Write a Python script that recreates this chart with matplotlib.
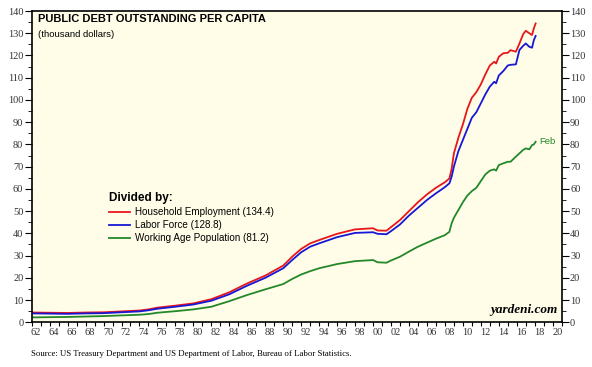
import matplotlib.pyplot as plt

# Public debt per capita (thousand dollars)
years = [1962, 1964, 1966, 1968, 1970, 1972, 1974,
         1975, 1976, 1978, 1980, 1982, 1984, 1986, 1988,
         1990, 1991, 1992, 1993, 1994, 1996, 1998,
         2000, 2000.5, 2001.5, 2002, 2003, 2004, 2005, 2006, 2007, 2008,
         2008.5, 2008.75, 2009, 2009.5, 2010, 2010.5, 2011, 2011.5, 2012, 2012.5,
         2013, 2013.5, 2013.7, 2014, 2014.5, 2015, 2015.3, 2015.9, 2016.3, 2016.7,
         2017, 2017.4, 2017.7, 2017.9, 2018.1]

household = [4.4, 4.3, 4.2, 4.4, 4.5, 4.9, 5.3,
             5.8, 6.6, 7.5, 8.5, 10.4, 13.5, 17.5, 21,
             25.5, 29.5, 33, 35.5, 37, 39.8, 41.8,
             42.3, 41.3, 41.2, 42.8, 46, 50, 54, 57.5, 60.5, 63,
             64.7, 69, 76, 83, 89, 96, 101, 103.5, 107, 111.5,
             115.5, 117.2, 116.4, 119.4, 121, 121.2, 122.4, 121.7, 125.4, 129.5,
             131.1, 130, 129.2, 132.2, 134.4]

labor = [4.0, 3.9, 3.8, 4.0, 4.1, 4.5, 4.9,
         5.4, 6.1, 7.0, 8.0, 9.7, 12.6, 16.5, 20,
         24.3, 28, 31.5, 34, 35.5, 38.3, 40.2,
         40.5, 39.8, 39.6, 41, 44, 48, 51.5, 55, 58, 60.8,
         62.5, 65.5, 70, 77, 82, 87, 92, 94.5, 98.5, 102.5,
         106, 108.2, 107.5, 111, 113, 115.5, 115.8, 116, 122.5, 124.3,
         125.4, 123.9, 123.5, 126.9, 128.8]

working_age = [2.2, 2.3, 2.4, 2.6, 2.8, 3.1, 3.4,
               3.7, 4.3, 5.0, 5.8, 7.0, 9.5, 12.3, 14.8,
               17.2, 19.5, 21.5, 23, 24.3, 26.2, 27.5,
               28, 27, 26.8, 27.8, 29.5, 31.8, 34, 35.8, 37.6, 39.2,
               40.7, 44.5, 47, 50.5, 54, 57, 59, 60.5, 63.5, 66.5,
               68.2, 68.8, 68.2, 70.7, 71.5, 72.2, 72.2, 74.5, 76, 77.5,
               78.2, 77.8, 79.7, 80, 81.2]

labels = ["Household Employment (134.4)", "Labor Force (128.8)",
          "Working Age Population (81.2)"]
colors = ["#e8161b", "#1717d6", "#23882a"]

fig = plt.figure(figsize=(5.92, 3.67), dpi=100)
ax = fig.add_axes([0.0535, 0.1218, 0.8953, 0.8482])
ax.set_facecolor("#fffde8")

for vals, lab, col in zip([household, labor, working_age], labels, colors):
    ax.plot(years, vals, color=col, linewidth=1.3, label=lab)

ax.set_xlim(1962, 2021)
ax.set_ylim(0, 140)

# x axis: ticks at each year, labels centred between ticks
ax.set_xticks(range(1962, 2022))
ax.set_xticklabels([])
ax.set_xticks([y + 0.5 for y in range(1962, 2021, 2)], minor=True)
ax.set_xticklabels([f"{y % 100:02d}" for y in range(1962, 2021, 2)], minor=True)
ax.tick_params(axis="x", which="major", direction="out", length=3, width=0.8)
ax.tick_params(axis="x", which="minor", length=0, pad=4,
               labelsize=7.5, labelcolor="#333333")
for t in ax.get_xticklabels(minor=True):
    t.set_fontfamily("Liberation Serif")

# y axis on both sides
ax.set_yticks(range(0, 141, 10))
ax.set_yticks(range(5, 140, 10), minor=True)
ax.tick_params(axis="y", which="major", direction="out", length=5, width=0.8,
               left=True, right=True, labelleft=True, labelright=True,
               labelsize=7.5, labelcolor="#333333", pad=1)
ax.tick_params(axis="y", which="minor", direction="out", length=3, width=0.6,
               left=True, right=True)
for lbl in ax.yaxis.get_majorticklabels():
    lbl.set_fontfamily("Liberation Serif")

for s in ax.spines.values():
    s.set_linewidth(1.2)

ax.text(0.011, 0.992, "PUBLIC DEBT OUTSTANDING PER CAPITA", transform=ax.transAxes,
        fontsize=8.0, fontweight="bold", family="Liberation Sans", va="top")
ax.text(0.011, 0.938, "(thousand dollars)", transform=ax.transAxes,
        fontsize=6.8, family="Liberation Sans", va="top")

leg = ax.legend(loc="upper left", bbox_to_anchor=(0.138, 0.43), frameon=False,
                title="Divided by:", handlelength=2.2,
                handletextpad=0.45, labelspacing=0.3, borderaxespad=0,
                prop={"family": "Liberation Sans", "size": 7.1})
leg.get_title().set_fontweight("bold")
leg.get_title().set_fontfamily("Liberation Sans")
leg.get_title().set_fontsize(8.5)
leg._legend_box.align = "left"

ax.text(years[-1] + 0.4, working_age[-1] + 0.3, "Feb", color=colors[2],
        fontsize=6.8, family="Liberation Sans", va="center")
ax.text(0.992, 0.02, "yardeni.com", transform=ax.transAxes, ha="right",
        va="bottom", fontsize=9.5, fontweight="bold", style="italic",
        family="Liberation Serif")

fig.text(0.053, 0.03, "Source: US Treasury Department and US Department of Labor, "
         "Bureau of Labor Statistics.", fontsize=6.3, family="Liberation Serif")

fig.savefig("out.png", dpi=100)
